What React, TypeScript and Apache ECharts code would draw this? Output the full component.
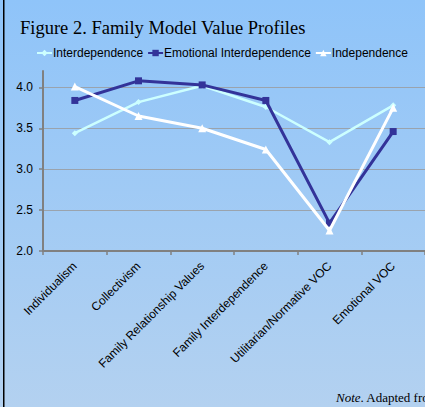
import React, { useEffect, useRef } from "react";
import * as echarts from "echarts";

const categories = [
  "Individualism",
  "Collectivism",
  "Family Relationship Values",
  "Family Interdependence",
  "Utilitarian/Normative VOC",
  "Emotional VOC",
];
const interdependence = [3.44, 3.82, 4.02, 3.76, 3.33, 3.78];
const emotionalInterdependence = [3.84, 4.08, 4.03, 3.84, 2.34, 3.46];
const independence = [4.01, 3.65, 3.5, 3.24, 2.25, 3.75];
const yTicks = [2.0, 2.5, 3.0, 3.5, 4.0];
const titleText = "Figure 2. Family Model Value Profiles";

export default function App() {
  const ref = useRef<HTMLDivElement>(null);
  useEffect(() => {
    if (!ref.current) return;
    const chart = echarts.init(ref.current, null, { renderer: "svg" });
    const sans = "Liberation Sans, Arial, sans-serif";
    const serif = "Liberation Serif, Times New Roman, serif";
    chart.setOption({
      animation: false,
      backgroundColor: {
        type: "linear",
        x: 0,
        y: 0,
        x2: 0,
        y2: 1,
        colorStops: [
          { offset: 0, color: "#8fc4f9" },
          { offset: 1, color: "#b3d1f0" },
        ],
      },
      title: {
        text: titleText,
        left: 15,
        top: 13,
        textStyle: { fontFamily: serif, fontSize: 18.5, fontWeight: "normal", color: "#000" },
      },
      legend: {
        left: 36,
        top: 47,
        width: 400,
        padding: 0,
        itemGap: 4,
        itemWidth: 15,
        itemHeight: 8,
        textStyle: { fontFamily: sans, fontSize: 12, color: "#000", padding: [0, 0, 0, -4] },
        data: ["Interdependence", "Emotional Interdependence", "Independence"],
      },
      grid: { left: 43, top: 71, width: 385, height: 180 },
      xAxis: {
        type: "category",
        data: categories,
        boundaryGap: true,
        axisLine: { lineStyle: { color: "#808080", width: 2 } },
        axisTick: { show: true, length: 4, lineStyle: { color: "#808080", width: 1.5 } },
        axisLabel: { rotate: 45, interval: 0, margin: 13, fontFamily: sans, fontSize: 12, color: "#000" },
        splitLine: { show: false },
      },
      yAxis: {
        type: "value",
        min: 2,
        max: 4.2,
        interval: 0.5,
        axisLine: { show: true, lineStyle: { color: "#808080", width: 2 } },
        axisTick: { show: true, length: 4, customValues: yTicks, lineStyle: { color: "#808080", width: 1.5 } },
        axisLabel: {
          customValues: yTicks,
          margin: 10,
          fontFamily: sans,
          fontSize: 12,
          color: "#000",
          formatter: (v: number) => v.toFixed(1),
        },
        splitLine: { show: true, lineStyle: { color: "#9aa3ad", width: 1 } },
      },
      series: [
        {
          name: "Interdependence",
          type: "line",
          data: interdependence,
          symbol: "diamond",
          symbolSize: 6,
          lineStyle: { color: "#ccffff", width: 2.5 },
          itemStyle: { color: "#ccffff" },
          z: 2,
        },
        {
          name: "Emotional Interdependence",
          type: "line",
          data: emotionalInterdependence,
          symbol: "rect",
          symbolSize: 7,
          lineStyle: { color: "#333399", width: 3 },
          itemStyle: { color: "#333399" },
          z: 3,
        },
        {
          name: "Independence",
          type: "line",
          data: independence,
          symbol: "triangle",
          symbolSize: 8,
          lineStyle: { color: "#ffffff", width: 3 },
          itemStyle: { color: "#ffffff" },
          z: 4,
        },
      ],
      graphic: [
        {
          type: "rect",
          left: 3,
          top: 0,
          shape: { width: 1.5, height: 407 },
          style: { fill: "#000" },
          z: 10,
        },
        {
          type: "text",
          left: 336,
          top: 391,
          style: {
            text: "{i|Note}. Adapted from",
            font: `13px ${serif}`,
            fill: "#000",
            rich: { i: { fontStyle: "italic", fontFamily: serif, fontSize: 13, fill: "#000" } },
          },
        },
      ],
    });
    return () => chart.dispose();
  }, []);
  return (
    <div
      ref={ref}
      style={{ position: "fixed", left: 0, top: 0, width: 425, height: 407 }}
    />
  );
}
